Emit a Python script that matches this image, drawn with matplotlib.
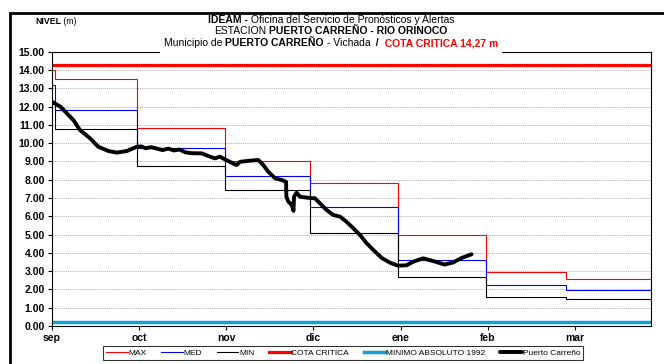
import numpy as np
import matplotlib
matplotlib.use("Agg")
from matplotlib import pyplot as plt
from matplotlib.patches import Rectangle

plt.rcParams['font.family'] = ['Liberation Sans', 'DejaVu Sans']

# Month starts (days since 1 sep) for the historical step series
month_days = [0, 1, 30, 61, 91, 122, 153, 181, 211]
level_max = [14.00, 13.49, 10.81, 9.02, 7.80, 4.95, 2.97, 2.55, 2.55]
level_med = [13.20, 11.79, 9.71, 8.20, 6.52, 3.62, 2.24, 1.97, 1.97]
level_min = [12.30, 10.75, 8.75, 7.44, 5.10, 2.66, 1.57, 1.46, 1.46]

cota_critica = 14.27
minimo_1992 = 0.20

# Observed levels at Puerto Carreño (days since 1 sep, metres)
obs_days = [0, 3, 7.6, 9.9, 13.5, 16.4, 19.9, 22.9, 26.4, 29.9, 31.5, 33, 35, 37,
            39, 41, 43, 45, 47, 49, 52.8, 55.7, 57.5, 59.2, 61, 63.8, 65.1,
            66.3, 69.8, 72.7, 74.5, 76.2, 78.6, 81, 82.5, 82.6, 83.3, 84.5,
            85.1, 85.3, 86.2, 87.4, 89.8, 92.7, 94.4, 96.8, 99.1, 101.5, 103.8,
            106.2, 108.5, 110.9, 113.2, 116.2, 119.1, 122, 124.9, 127.3, 130.8,
            134.3, 138.4, 141.4, 144.3, 147.8]
obs_level = [12.26, 12.00, 11.26, 10.72, 10.26, 9.80, 9.57, 9.48, 9.57, 9.80, 9.82,
             9.72, 9.78, 9.70, 9.62, 9.70, 9.60, 9.65, 9.50, 9.45, 9.44, 9.26,
             9.17, 9.26, 9.11, 8.89, 8.80, 8.98, 9.04, 9.08, 8.80, 8.44, 8.08,
             7.98, 7.89, 7.07, 6.80, 6.62, 6.30, 7.07, 7.29, 7.07, 7.02, 6.98,
             6.71, 6.34, 6.07, 5.98, 5.70, 5.34, 4.98, 4.52, 4.16, 3.72, 3.46,
             3.30, 3.32, 3.52, 3.70, 3.55, 3.36, 3.48, 3.72, 3.92]

month_labels = ['sep', 'oct', 'nov', 'dic', 'ene', 'feb', 'mar']
x_end = 211

W, H = 664, 364
fig = plt.figure(figsize=(W / 100, H / 100), dpi=100)
ax = fig.add_axes([51.8 / W, 1 - 326 / H, (651 - 51.8) / W, (326 - 51.7) / H])

ax.plot(month_days, level_max, drawstyle='steps-post', color='#ff0000', lw=0.8, label='MAX')
ax.plot(month_days, level_med, drawstyle='steps-post', color='#0000ff', lw=0.8, label='MED')
ax.plot(month_days, level_min, drawstyle='steps-post', color='black', lw=0.8, label='MIN')
ax.plot([0, x_end], [cota_critica] * 2, color='#ff0000', lw=2.3, label='COTA CRITICA')
ax.plot([0, x_end], [minimo_1992] * 2, color='#0ea0d6', lw=2.5, label='MINIMO ABSOLUTO 1992')
ax.plot(obs_days, obs_level, color='black', lw=2.8, solid_capstyle='round',
        solid_joinstyle='round', label='Puerto Carreño')

ax.set_xlim(0, x_end)
ax.set_ylim(0, 15)
ax.set_yticks(np.arange(0, 16))
ax.set_yticklabels(['%.2f' % v for v in range(16)], fontsize=7.5, fontweight='bold')
ax.set_xticks(np.arange(len(month_labels)) * 30.7)
ax.set_xticklabels(month_labels, fontsize=7.5, fontweight='bold')
ax.tick_params(axis='both', direction='out', length=3, width=0.8, pad=2)
ax.grid(axis='y', color='#b0b0b0', linestyle=(0, (1, 1)), linewidth=0.7)
ax.set_axisbelow(True)
for sp in ax.spines.values():
    sp.set_linewidth(0.8)
    sp.set_color('black')

# outer frame of the sheet
fig.patches.append(Rectangle((10 / W, -0.2), 1.5, 1.2 - 13 / H, transform=fig.transFigure,
                             fill=False, edgecolor='black', lw=2))
# white box behind the title, covering the top border
fig.patches.append(Rectangle((160 / W, 1 - 53.5 / H), 342 / W, 20 / H,
                             transform=fig.transFigure, facecolor='white',
                             edgecolor='none', zorder=1))


def draw_segments(segs, xc, y, size, align='center'):
    renderer = fig.canvas.get_renderer()
    texts = [fig.text(0, y, s, fontsize=size, fontweight=w, color=c, va='center')
             for s, w, c in segs]
    widths = [t.get_window_extent(renderer).width for t in texts]
    x = xc * W - sum(widths) / 2 if align == 'center' else xc * W
    for t, wd in zip(texts, widths):
        t.set_x(x / W)
        x += wd


draw_segments([('IDEAM -', 'bold', 'black'),
               (' Oficina del Servicio de Pronósticos y Alertas', 'normal', 'black')],
              331 / W, 1 - 20 / H, 7.5)
draw_segments([('ESTACION', 'normal', 'black'),
               (' PUERTO CARREÑO - RIO ORINOCO', 'bold', 'black')],
              331 / W, 1 - 31.5 / H, 7.5)
draw_segments([('Municipio de', 'normal', 'black'),
               (' PUERTO CARREÑO', 'bold', 'black'),
               (' - Vichada', 'normal', 'black'),
               ('  /', 'bold', 'black'),
               ('  COTA CRITICA 14,27 m', 'bold', '#ff0000')],
              331 / W, 1 - 43 / H, 7.5)
draw_segments([('NIVEL', 'bold', 'black'), (' (m)', 'normal', 'black')],
              35 / W, 1 - 21 / H, 6.3, align='left')

leg = fig.legend(ncol=6, loc='center', bbox_to_anchor=(343 / W, 1 - 353 / H),
                 fontsize=6, frameon=True, fancybox=False, edgecolor='black',
                 handlelength=2.6, handletextpad=0.1, columnspacing=1.75,
                 borderpad=0.4)
leg.get_frame().set_linewidth(0.8)

fig.savefig('out.png', dpi=100)
